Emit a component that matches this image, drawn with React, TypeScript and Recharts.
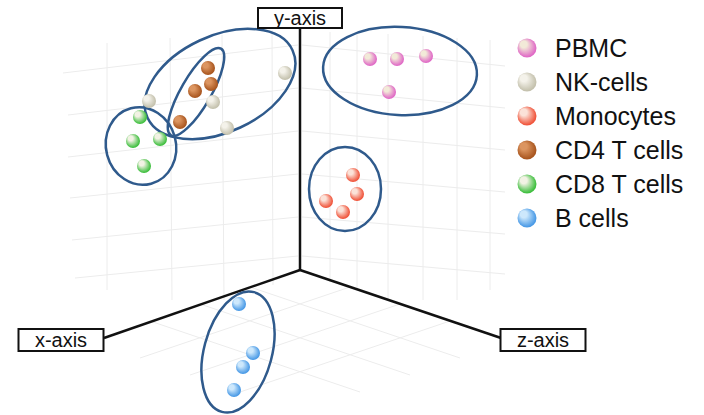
import { ScatterChart, Scatter, XAxis, YAxis, ReferenceLine, Legend } from 'recharts';

// 点位（按图片像素坐标读取，y 向下）
const pbmc = [{ x: 370, y: 59 }, { x: 397, y: 59 }, { x: 426, y: 56 }, { x: 389, y: 92 }];
const nkCells = [{ x: 285, y: 73 }, { x: 149, y: 101 }, { x: 213, y: 102 }, { x: 227, y: 128 }];
const monocytes = [{ x: 353, y: 175 }, { x: 357, y: 194 }, { x: 326, y: 201 }, { x: 343, y: 212 }];
const cd4 = [{ x: 208, y: 68 }, { x: 211, y: 84 }, { x: 195, y: 91 }, { x: 180, y: 122 }];
const cd8 = [{ x: 140, y: 117 }, { x: 133, y: 141 }, { x: 160, y: 139 }, { x: 144, y: 166 }];
const bCells = [{ x: 239, y: 304 }, { x: 253, y: 353 }, { x: 243, y: 367 }, { x: 234, y: 390 }];

const groupNames = ['PBMC', 'NK-cells', 'Monocytes', 'CD4 T cells', 'CD8 T cells', 'B cells'];
const groupData = [pbmc, nkCells, monocytes, cd4, cd8, bCells];
const groupColors = ['#e06ac6', '#c4c1ad', '#f0553c', '#a9561f', '#3fbf3f', '#4a9ae6'];
const groupLights = ['#f2ead8', '#f4f2ea', '#fbe2d8', '#dc9560', '#f2f2e4', '#cde8fc'];

// 聚类椭圆
const clusters = [
  { x: 220, y: 84, rx: 80, ry: 48, angle: -25 },
  { x: 196, y: 92, rx: 50, ry: 15, angle: -60 },
  { x: 141, y: 146, rx: 35, ry: 39, angle: -15 },
  { x: 400, y: 71, rx: 77, ry: 44, angle: 3 },
  { x: 345, y: 189, rx: 36, ry: 42, angle: 0 },
  { x: 238, y: 352, rx: 62, ry: 34, angle: -75 },
];

// 三维坐标轴
const origin = { x: 300, y: 270 };
const axisEnds = [
  { x: 300, y: 28 },
  { x: 104, y: 338 },
  { x: 501, y: 338 },
];
const axisLabels = [
  { x: 300, y: 18, label: 'y-axis', w: 84, h: 20 },
  { x: 61, y: 340, label: 'x-axis', w: 85, h: 22 },
  { x: 543, y: 340, label: 'z-axis', w: 85, h: 22 },
];

// 背景网格（淡灰）
const gridSegments = [
  // 左墙 竖线
  [{ x: 107, y: 43 }, { x: 107, y: 290 }],
  [{ x: 170, y: 38 }, { x: 172, y: 300 }],
  [{ x: 222, y: 35 }, { x: 224, y: 300 }],
  [{ x: 272, y: 30 }, { x: 273, y: 285 }],
  // 左墙 横线
  [{ x: 63, y: 73 }, { x: 298, y: 45 }],
  [{ x: 68, y: 115 }, { x: 298, y: 88 }],
  [{ x: 68, y: 157 }, { x: 298, y: 131 }],
  [{ x: 70, y: 198 }, { x: 298, y: 174 }],
  [{ x: 72, y: 240 }, { x: 298, y: 217 }],
  [{ x: 75, y: 278 }, { x: 298, y: 256 }],
  // 右墙 竖线
  [{ x: 330, y: 32 }, { x: 330, y: 282 }],
  [{ x: 357, y: 33 }, { x: 357, y: 290 }],
  [{ x: 388, y: 34 }, { x: 388, y: 300 }],
  [{ x: 423, y: 36 }, { x: 423, y: 300 }],
  [{ x: 457, y: 38 }, { x: 457, y: 300 }],
  [{ x: 490, y: 40 }, { x: 490, y: 290 }],
  // 右墙 横线
  [{ x: 302, y: 45 }, { x: 505, y: 66 }],
  [{ x: 302, y: 88 }, { x: 505, y: 108 }],
  [{ x: 302, y: 131 }, { x: 505, y: 150 }],
  [{ x: 302, y: 174 }, { x: 505, y: 192 }],
  [{ x: 302, y: 217 }, { x: 505, y: 234 }],
  [{ x: 302, y: 256 }, { x: 505, y: 274 }],
  // 地面
  [{ x: 250, y: 287 }, { x: 460, y: 358 }],
  [{ x: 200, y: 304 }, { x: 410, y: 375 }],
  [{ x: 150, y: 321 }, { x: 360, y: 392 }],
  [{ x: 350, y: 287 }, { x: 140, y: 358 }],
  [{ x: 400, y: 304 }, { x: 190, y: 375 }],
  [{ x: 450, y: 321 }, { x: 240, y: 392 }],
];

const FONT = '"Liberation Sans", Arial, sans-serif';

const Sphere = (props: any) => {
  const { cx, cy, idx } = props;
  return <circle cx={cx} cy={cy} r={7} fill={`url(#sphere-${idx})`} />;
};

const ClusterShape = (props: any) => {
  const { cx, cy, payload } = props;
  return (
    <ellipse
      cx={cx}
      cy={cy}
      rx={payload.rx}
      ry={payload.ry}
      transform={`rotate(${payload.angle} ${cx} ${cy})`}
      fill="none"
      stroke="#2f5a8c"
      strokeWidth={2.5}
    />
  );
};

const AxisLabel = (props: any) => {
  const { cx, cy, payload } = props;
  return (
    <g>
      <rect
        x={cx - payload.w / 2}
        y={cy - payload.h / 2}
        width={payload.w}
        height={payload.h}
        fill="#fff"
        stroke="#111"
        strokeWidth={2}
      />
      <text x={cx} y={cy + 7} textAnchor="middle" fontSize={20} fontFamily={FONT} fill="#111">
        {payload.label}
      </text>
    </g>
  );
};

const renderLegend = (props: any) => {
  const names = (props.payload || []).map((p: any) => p.value);
  const items = groupNames.filter((n) => names.includes(n));
  return (
    <div style={{ fontFamily: FONT }}>
      {items.map((name) => {
        const i = groupNames.indexOf(name);
        return (
          <div key={name} style={{ display: 'flex', alignItems: 'center', height: 34 }}>
            <svg width={22} height={22} style={{ marginRight: 17 }}>
              <circle cx={11} cy={11} r={9.5} fill={`url(#sphere-${i})`} />
            </svg>
            <span style={{ fontSize: 25, color: '#111', lineHeight: '34px' }}>{name}</span>
          </div>
        );
      })}
    </div>
  );
};

export default function App() {
  return (
    <div style={{ position: 'absolute', left: 0, top: 0, background: '#fff' }}>
      <ScatterChart width={704} height={415} margin={{ top: 0, right: 0, bottom: 0, left: 0 }}>
        <defs>
          {groupColors.map((c, i) => (
            <radialGradient key={i} id={`sphere-${i}`} cx="50%" cy="50%" r="60%" fx="25%" fy="22%">
              <stop offset="0%" stopColor={groupLights[i]} />
              <stop offset="30%" stopColor={groupLights[i]} />
              <stop offset="85%" stopColor={c} />
              <stop offset="100%" stopColor={c} />
            </radialGradient>
          ))}
        </defs>
        <XAxis type="number" dataKey="x" domain={[0, 704]} hide />
        <YAxis type="number" dataKey="y" domain={[0, 415]} reversed hide />

        {gridSegments.map((seg, i) => (
          <ReferenceLine
            key={`g${i}`}
            segment={seg}
            stroke="#ececec"
            strokeWidth={1}
            ifOverflow="visible"
          />
        ))}

        {axisEnds.map((end, i) => (
          <ReferenceLine
            key={`a${i}`}
            segment={[origin, end]}
            stroke="#111"
            strokeWidth={2.5}
            ifOverflow="visible"
          />
        ))}

        <Scatter
          name="clusters"
          data={clusters}
          legendType="none"
          shape={ClusterShape}
          isAnimationActive={false}
        />

        {groupData.map((d, i) => (
          <Scatter
            key={groupNames[i]}
            name={groupNames[i]}
            data={d}
            fill={groupColors[i]}
            shape={(p: any) => <Sphere {...p} idx={i} />}
            isAnimationActive={false}
          />
        ))}

        <Scatter
          name="axisLabels"
          data={axisLabels}
          legendType="none"
          shape={AxisLabel}
          isAnimationActive={false}
        />

        <Legend
          layout="vertical"
          align="center"
          verticalAlign="middle"
          wrapperStyle={{ left: 516, top: 31, width: 188 }}
          content={renderLegend}
        />
      </ScatterChart>
    </div>
  );
}
